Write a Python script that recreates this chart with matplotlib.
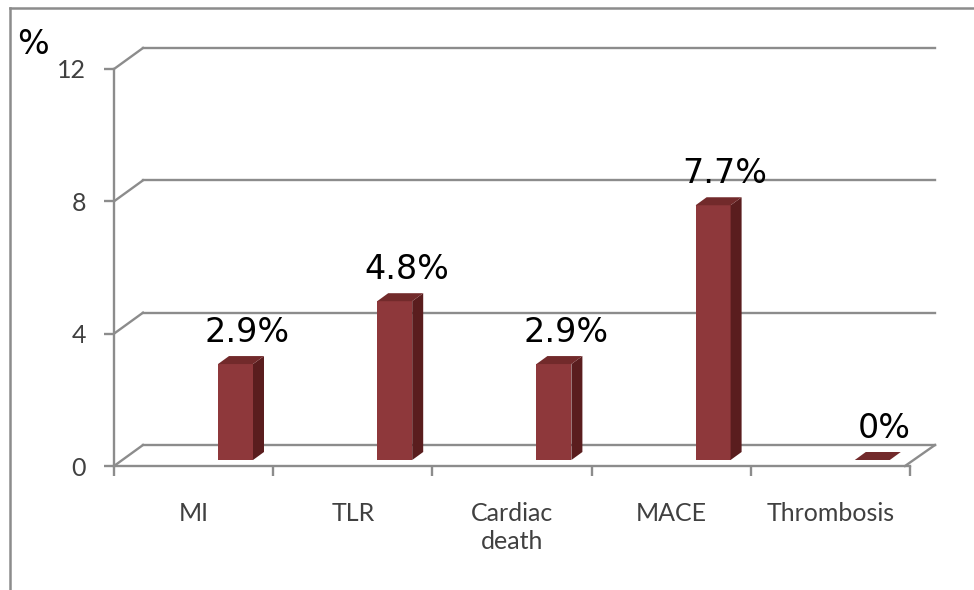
import matplotlib.pyplot as plt
from matplotlib.patches import Polygon
from matplotlib.lines import Line2D

categories = ["MI", "TLR", "Cardiac\ndeath", "MACE", "Thrombosis"]
values = [2.9, 4.8, 2.9, 7.7, 0.0]
labels = ["2.9%", "4.8%", "2.9%", "7.7%", "0%"]
yticks = [0, 4, 8, 12]

W, H = 974, 590
fig = plt.figure(figsize=(W / 100, H / 100), dpi=100)
# front plane of the 3d box, in pixels
left, right, bottom, top = 114, 910, 466, 69
ax = fig.add_axes([left / W, 1 - bottom / H, (right - left) / W, (bottom - top) / H])
ax.set_xlim(-0.5, len(categories) - 0.5)
ax.set_ylim(0, 12)

px_x = (right - left) / len(categories)
px_y = (bottom - top) / 12.0

def dx(p):
    return p / px_x

def dy(p):
    return p / px_y

grid_c = "#8c8c8c"
front = "#8e383b"
side = "#5a1d1e"
cap = "#722a2b"

# back wall gridlines and the diagonals that join them to the front axis
bx, by = dx(29), dy(21)
x0, x1 = -0.5, len(categories) - 0.5
for t in yticks:
    ax.add_line(Line2D([x0 + bx, x1 + dx(25)], [t + by, t + by], color=grid_c, lw=1.7,
                       zorder=1, clip_on=False))
    ax.add_line(Line2D([x0, x0 + bx], [t, t + by], color=grid_c, lw=1.7, zorder=1, clip_on=False))
ax.add_line(Line2D([x1 - dx(5), x1 + dx(25)], [0, by], color=grid_c, lw=1.7, zorder=1, clip_on=False))

# bars as front face, side face and cap
bw = dx(35)
sx, sy = dx(11), dy(8)
base = dy(6)
for i, v in enumerate(values):
    xl = i + dx(104) - 0.5
    xr = xl + bw
    yb, yt = base, base + v
    if v > 0:
        ax.add_patch(Polygon([(xl, yb), (xr, yb), (xr, yt), (xl, yt)], closed=True,
                             fc=front, ec="none", zorder=3))
        ax.add_patch(Polygon([(xr, yb), (xr + sx, yb + sy), (xr + sx, yt + sy), (xr, yt)],
                             closed=True, fc=side, ec="none", zorder=3))
    ax.add_patch(Polygon([(xl, yt), (xr, yt), (xr + sx, yt + sy), (xl + sx, yt + sy)],
                         closed=True, fc=cap, ec="none", zorder=3))
    ax.text(xl + bw / 2 + dx(12), yt + dy(15), labels[i], ha="center", va="bottom",
            fontsize=24, family="DejaVu Sans", color="black", zorder=4)

for s in ["top", "right"]:
    ax.spines[s].set_visible(False)
for s in ["left", "bottom"]:
    ax.spines[s].set_color(grid_c)
    ax.spines[s].set_linewidth(1.7)

ax.set_yticks(yticks)
ax.set_yticklabels([str(t) for t in yticks], fontsize=18, family="Lato", color="#404040")
ax.tick_params(axis="y", length=7, width=1.7, color=grid_c, pad=13)

ax.set_xticks(range(len(categories)))
ax.set_xticklabels(categories, fontsize=18, family="Lato", color="#404040", linespacing=1.25)
ax.set_xticks([i - 0.5 for i in range(len(categories) + 1)], minor=True)
ax.tick_params(axis="x", which="major", length=0, pad=26)
ax.tick_params(axis="x", which="minor", length=7, width=1.7, color=grid_c)

fig.text(33 / W, 1 - 45 / H, "%", fontsize=24, family="DejaVu Sans", ha="center", va="center")

# outer frame, cut off at right and bottom
fig.add_artist(Line2D([10 / W, 1], [1 - 8 / H, 1 - 8 / H], color=grid_c, lw=1.8))
fig.add_artist(Line2D([10 / W, 10 / W], [0, 1 - 8 / H], color=grid_c, lw=1.8))

fig.savefig("out.png", dpi=100)
